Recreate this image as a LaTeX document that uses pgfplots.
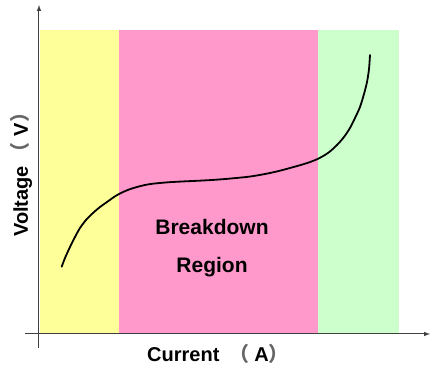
\documentclass[border=0pt]{standalone}
\usepackage{fontspec}
\setmainfont{Liberation Sans}
\newfontfamily\cjk{Noto Sans CJK SC}
\usepackage{pgfplots}
\pgfplotsset{compat=1.18}
\definecolor{zyellow}{RGB}{255,255,153}
\definecolor{zpink}{RGB}{255,153,204}
\definecolor{zgreen}{RGB}{204,255,204}

\begin{document}
\begin{tikzpicture}
\begin{axis}[
    scale only axis,
    width=405pt, height=343pt,
    xmin=-14, xmax=391,
    ymin=-14, ymax=329,
    axis lines=middle,
    axis line style={-latex, line width=1pt, black!75},
    ticks=none,
    axis on top,
    clip=false,
]
% regions
\addplot[fill=zyellow, draw=none] coordinates {(1,0) (80,0) (80,304) (1,304)} -- cycle;
\addplot[fill=zpink, draw=none] coordinates {(80,0) (279,0) (279,304) (80,304)} -- cycle;
\addplot[fill=zgreen, draw=none] coordinates {(279,0) (360,0) (360,304) (279,304)} -- cycle;

% characteristic curve
\addplot[black, line width=1.8pt, smooth, line join=round, line cap=round] coordinates {
    (22.7,67.3) (26,76) (31,87) (36,97) (41,106) (47,114) (54,121) (61,127)
    (68,132) (75,137) (81,140.5) (90,144.5) (98,147) (106,149) (114,150.3)
    (129,151.7) (145,152.6) (160,153.3) (176,154.2) (192,155.5) (209,157.2)
    (220,158.9) (231,161) (241,163.3) (251,166) (261,168.8) (270,171.6)
    (279,175.2) (289,181) (298,189) (305,197) (311,206) (316,216) (321,227)
    (325,240) (328,252) (330,265) (331,279)
};

\node[anchor=base, font=\fontsize{21}{24}\selectfont\bfseries] at (axis cs:173,99) {Breakdown};
\node[anchor=base, font=\fontsize{21}{24}\selectfont\bfseries] at (axis cs:173,61) {Region};

\node[anchor=base west, inner sep=0pt, font=\fontsize{20}{24}\selectfont\bfseries]
    at (axis cs:108,-28) {Current\hspace{10pt}{\cjk\color{black!60}（}\hspace{5pt}A{\cjk\color{black!60}）}};
\node[anchor=base west, inner sep=0pt, rotate=90, font=\fontsize{20}{24}\selectfont\bfseries]
    at (axis cs:-11,97) {Voltage\hspace{4pt}{\cjk\color{black!60}（}\hspace{6pt}V{\cjk\color{black!60}）}};

\path (axis cs:-39,-32) rectangle (axis cs:392,334);
\end{axis}
\end{tikzpicture}
\end{document}
